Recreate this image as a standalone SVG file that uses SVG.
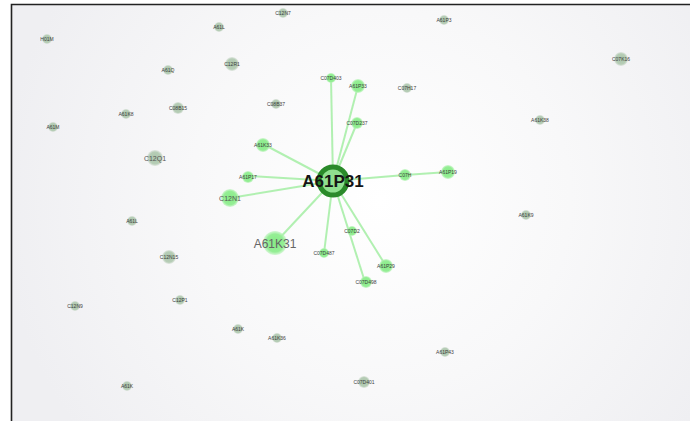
<svg xmlns="http://www.w3.org/2000/svg" width="690" height="421" viewBox="0 0 690 421">
<defs>
<radialGradient id="bg" cx="380" cy="200" r="380" gradientUnits="userSpaceOnUse">
<stop offset="0" stop-color="#ffffff"/>
<stop offset="0.5" stop-color="#f8f8f9"/>
<stop offset="1" stop-color="#efeff2"/>
</radialGradient>
<radialGradient id="gn" cx="0.5" cy="0.5" r="0.5">
<stop offset="0" stop-color="#86ec86"/>
<stop offset="0.75" stop-color="#95ee95"/>
<stop offset="1" stop-color="#b8f3b8" stop-opacity="0.6"/>
</radialGradient>
<radialGradient id="gy" cx="0.5" cy="0.5" r="0.5">
<stop offset="0" stop-color="#acc6ac"/>
<stop offset="0.75" stop-color="#b6cdb6"/>
<stop offset="1" stop-color="#d2ddd2" stop-opacity="0.6"/>
</radialGradient>
</defs>
<style>
.e{stroke:#a9eea9;stroke-width:2;fill:none;stroke-opacity:0.9}
.g{fill:url(#gn)}
.y{fill:url(#gy)}
.t{font-family:"Liberation Sans",Arial,sans-serif;font-size:5px;fill:#3e3e3e;text-anchor:middle;dominant-baseline:central}
.m{font-family:"Liberation Sans",Arial,sans-serif;font-size:7px;fill:#555;text-anchor:middle;dominant-baseline:central}
.l{font-family:"Liberation Sans",Arial,sans-serif;fill:#666;text-anchor:middle;dominant-baseline:central}
</style>
<rect x="0" y="0" width="690" height="421" fill="#ffffff"/>
<rect x="12" y="5" width="678" height="416" fill="url(#bg)"/>
<path d="M11.5 421 V4.5 H690" fill="none" stroke="#222" stroke-width="1.6"/>

<g id="connectors">
<line class="e" x1="333" y1="181" x2="331" y2="78"/>
<line class="e" x1="333" y1="181" x2="358" y2="86"/>
<line class="e" x1="333" y1="181" x2="357" y2="123"/>
<line class="e" x1="333" y1="181" x2="263" y2="144"/>
<line class="e" x1="333" y1="181" x2="248" y2="176"/>
<line class="e" x1="333" y1="181" x2="230" y2="198"/>
<line class="e" x1="333" y1="181" x2="275" y2="243"/>
<line class="e" x1="333" y1="181" x2="324" y2="253"/>
<line class="e" x1="333" y1="181" x2="365" y2="282"/>
<line class="e" x1="333" y1="181" x2="386" y2="266"/>
<line class="e" x1="333" y1="181" x2="405" y2="175"/>
<line class="e" x1="405" y1="175" x2="448" y2="172"/>
</g>

<g id="n-A61P31">
<circle cx="333" cy="181" r="14" fill="#8fe08f" stroke="#2a8a2a" stroke-width="5"/>
<text class="l" x="333" y="181" font-size="17" font-weight="bold" style="fill:#151515">A61P31</text>
</g>
<g id="n-C07D403"><circle class="g" cx="331" cy="78" r="5"/><text class="t" x="331" y="78">C07D403</text></g>
<g id="n-A61P33"><circle class="g" cx="358" cy="86" r="7"/><text class="t" x="358" y="86">A61P33</text></g>
<g id="n-C07D237"><circle class="g" cx="357" cy="123" r="6"/><text class="t" x="357" y="123">C07D237</text></g>
<g id="n-A61K33"><circle class="g" cx="263" cy="145" r="7"/><text class="t" x="263" y="145">A61K33</text></g>
<g id="n-A61P17"><circle class="g" cx="248" cy="177" r="6"/><text class="t" x="248" y="177">A61P17</text></g>
<g id="n-C12N1"><circle class="g" cx="230" cy="198" r="9"/><text class="m" x="230" y="198" font-size="9">C12N1</text></g>
<g id="n-A61K31"><circle class="g" cx="275" cy="243" r="12"/><text class="l" x="275" y="244" font-size="12">A61K31</text></g>
<g id="n-C07D487"><circle class="g" cx="324" cy="253" r="5"/><text class="t" x="324" y="253">C07D487</text></g>
<g id="n-C07D2"><circle class="g" cx="352" cy="231" r="5"/><text class="t" x="352" y="231">C07D2</text></g>
<g id="n-A61P29"><circle class="g" cx="386" cy="266" r="7"/><text class="t" x="386" y="266">A61P29</text></g>
<g id="n-C07D498"><circle class="g" cx="366" cy="282" r="6"/><text class="t" x="366" y="282">C07D498</text></g>
<g id="n-C07H"><circle class="g" cx="405" cy="175" r="6"/><text class="t" x="405" y="175">C07H</text></g>
<g id="n-A61P19"><circle class="g" cx="448" cy="172" r="7"/><text class="t" x="448" y="172">A61P19</text></g>

<g id="n-u1"><circle class="y" cx="47" cy="39" r="5"/><text class="t" x="47" y="39">H01M</text></g>
<g id="n-u2"><circle class="y" cx="219" cy="27" r="5"/><text class="t" x="219" y="27">A61L</text></g>
<g id="n-u3"><circle class="y" cx="283" cy="13" r="5"/><text class="t" x="283" y="13">C12N7</text></g>
<g id="n-u4"><circle class="y" cx="168" cy="70" r="5"/><text class="t" x="168" y="70">A61Q</text></g>
<g id="n-C12R1"><circle class="y" cx="232" cy="64" r="7"/><text class="t" x="232" y="64" font-size="5.5">C12R1</text></g>
<g id="n-u6"><circle class="y" cx="444" cy="20" r="5"/><text class="t" x="444" y="20">A61P3</text></g>
<g id="n-u7"><circle class="y" cx="621" cy="59" r="7"/><text class="t" x="621" y="59">C07K16</text></g>
<g id="n-u8"><circle class="y" cx="126" cy="114" r="5"/><text class="t" x="126" y="114">A61K8</text></g>
<g id="n-u9"><circle class="y" cx="178" cy="108" r="6"/><text class="t" x="178" y="108">C08B15</text></g>
<g id="n-u10"><circle class="y" cx="53" cy="127" r="5"/><text class="t" x="53" y="127">A61M</text></g>
<g id="n-u11"><circle class="y" cx="276" cy="104" r="5"/><text class="t" x="276" y="104">C08B37</text></g>
<g id="n-u12"><circle class="y" cx="407" cy="88" r="5"/><text class="t" x="407" y="88">C07H17</text></g>
<g id="n-u13"><circle class="y" cx="540" cy="120" r="5"/><text class="t" x="540" y="120">A61K38</text></g>
<g id="n-C12Q1"><circle class="y" cx="155" cy="158" r="8"/><text class="m" x="155" y="158">C12Q1</text></g>
<g id="n-u15"><circle class="y" cx="132" cy="221" r="5"/><text class="t" x="132" y="221">A61L</text></g>
<g id="n-C12N15"><circle class="y" cx="169" cy="257" r="7"/><text class="t" x="169" y="257" font-size="5.5">C12N15</text></g>
<g id="n-u17"><circle class="y" cx="526" cy="215" r="5"/><text class="t" x="526" y="215">A61K9</text></g>
<g id="n-u18"><circle class="y" cx="75" cy="306" r="5"/><text class="t" x="75" y="306">C12N9</text></g>
<g id="n-u19"><circle class="y" cx="180" cy="300" r="5"/><text class="t" x="180" y="300">C12P1</text></g>
<g id="n-u20"><circle class="y" cx="238" cy="329" r="5"/><text class="t" x="238" y="329">A61K</text></g>
<g id="n-u21"><circle class="y" cx="277" cy="338" r="5"/><text class="t" x="277" y="338">A61K36</text></g>
<g id="n-u22"><circle class="y" cx="445" cy="352" r="5"/><text class="t" x="445" y="352">A61P43</text></g>
<g id="n-u23"><circle class="y" cx="364" cy="382" r="6"/><text class="t" x="364" y="382">C07D401</text></g>
<g id="n-u24"><circle class="y" cx="127" cy="386" r="5"/><text class="t" x="127" y="386">A61K</text></g>
</svg>
